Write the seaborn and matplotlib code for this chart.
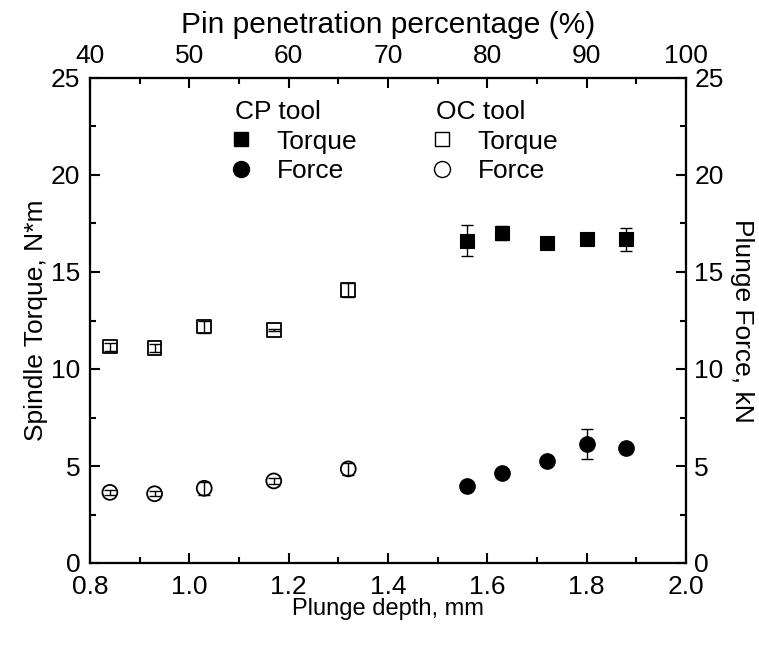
import matplotlib
matplotlib.use("Agg")
import matplotlib.pyplot as plt
import seaborn as sns
import pandas as pd
from matplotlib.ticker import MultipleLocator
from matplotlib.lines import Line2D

sns.set_theme(style="ticks")
plt.rcParams['font.family'] = ['Liberation Sans', 'DejaVu Sans']
for k in ['text.color', 'axes.labelcolor', 'xtick.color', 'ytick.color', 'axes.edgecolor']:
    plt.rcParams[k] = 'black'
FS = 19

# OC tool data
oc_depth = [0.84, 0.93, 1.03, 1.17, 1.32]
oc_torque = [11.15, 11.07, 12.18, 12.01, 14.07]
oc_torque_err = [0.2, 0.2, 0.3, 0.05, 0.35]
oc_force = [3.64, 3.57, 3.85, 4.23, 4.85]
oc_force_err = [0.12, 0.12, 0.33, 0.15, 0.32]

# CP tool data
cp_depth = [1.56, 1.63, 1.72, 1.80, 1.88]
cp_torque = [16.61, 17.0, 16.51, 16.68, 16.68]
cp_torque_err = [0.8, 0.35, 0.15, 0.12, 0.6]
cp_force = [3.99, 4.62, 5.26, 6.12, 5.94]
cp_force_err = [0.1, 0.1, 0.1, 0.77, 0.1]

pct_ticks = [40, 50, 60, 70, 80, 90, 100]
depth_ticks = [0.8, 1.0, 1.2, 1.4, 1.6, 1.8, 2.0]
y_ticks = [0, 5, 10, 15, 20, 25]

oc = pd.DataFrame({'depth': oc_depth, 'torque': oc_torque, 'force': oc_force})
cp = pd.DataFrame({'depth': cp_depth, 'torque': cp_torque, 'force': cp_force})

fig = plt.figure(figsize=(7.59, 6.47), dpi=100)
ax = fig.add_axes([90/759, 1-563/647, 596/759, 485/647])

# error bars
ekw = dict(fmt='none', ecolor='black', elinewidth=1.0, capsize=4.5, capthick=1.0, zorder=3)
ax.errorbar(cp_depth, cp_torque, yerr=cp_torque_err, **ekw)
ax.errorbar(cp_depth, cp_force, yerr=cp_force_err, **ekw)
ax.errorbar(oc_depth, oc_torque, yerr=oc_torque_err, **ekw)
ax.errorbar(oc_depth, oc_force, yerr=oc_force_err, **ekw)

sns.scatterplot(data=cp, x='depth', y='torque', marker='s', s=100, color='black',
                edgecolor='black', linewidth=0.8, ax=ax, zorder=2, legend=False)
sns.scatterplot(data=cp, x='depth', y='force', marker='o', s=125, color='black',
                edgecolor='black', linewidth=0.8, ax=ax, zorder=2, legend=False)
sns.scatterplot(data=oc, x='depth', y='torque', marker='s', s=95, facecolor='none',
                edgecolor='black', linewidth=1.3, ax=ax, zorder=4, legend=False)
sns.scatterplot(data=oc, x='depth', y='force', marker='o', s=115, facecolor='none',
                edgecolor='black', linewidth=1.3, ax=ax, zorder=4, legend=False)

ax.set_xlim(0.8, 2.0)
ax.set_ylim(0, 25)
ax.set_xticks(depth_ticks)
ax.set_xticklabels([f'{t:.1f}' for t in depth_ticks])
ax.xaxis.set_minor_locator(MultipleLocator(0.1))
ax.set_yticks(y_ticks)
ax.set_yticklabels([str(t) for t in y_ticks])
ax.yaxis.set_minor_locator(MultipleLocator(2.5))

for s in ax.spines.values():
    s.set_linewidth(1.5)
    s.set_color('black')
ax.tick_params(which='major', direction='in', length=7, width=1.5, labelsize=FS, pad=7)
ax.tick_params(axis='x', which='major', pad=9)
ax.tick_params(which='minor', direction='in', length=4, width=1.5)
ax.set_xlabel('Plunge depth, mm', fontsize=17, labelpad=-1)
ax.set_ylabel('Spindle Torque, N*m', fontsize=FS, labelpad=2)

# right axis
ax2 = ax.twinx()
ax2.set_ylim(0, 25)
ax2.set_yticks(y_ticks)
ax2.set_yticklabels([str(t) for t in y_ticks])
ax2.yaxis.set_minor_locator(MultipleLocator(2.5))
ax2.tick_params(which='major', direction='in', length=7, width=1.5, labelsize=FS, pad=6)
ax2.tick_params(which='minor', direction='in', length=4, width=1.5)
ax2.set_ylabel('Plunge Force, kN', fontsize=FS, rotation=270, labelpad=22)
for s in ax2.spines.values():
    s.set_linewidth(1.5)

# top axis
ax3 = ax.twiny()
ax3.set_xlim(40, 100)
ax3.set_xticks(pct_ticks)
ax3.set_xticklabels([str(t) for t in pct_ticks])
ax3.xaxis.set_minor_locator(MultipleLocator(5))
ax3.tick_params(which='major', direction='in', length=7, width=1.5, labelsize=FS, pad=7)
ax3.tick_params(which='minor', direction='in', length=4, width=1.5)
ax3.set_xlabel('Pin penetration percentage (%)', fontsize=21.5, labelpad=8)
for s in ax3.spines.values():
    s.set_linewidth(1.5)

# legends
cp_handles = [Line2D([], [], ls='none', marker='s', ms=10, mfc='black', mec='black'),
              Line2D([], [], ls='none', marker='o', ms=11.5, mfc='black', mec='black')]
oc_handles = [Line2D([], [], ls='none', marker='s', ms=9.5, mfc='white', mec='black', mew=1.0),
              Line2D([], [], ls='none', marker='o', ms=11.5, mfc='white', mec='black', mew=1.0)]
labels = ['Torque', 'Force']
lkw = dict(loc='upper left', frameon=False, fontsize=FS, title_fontsize=FS,
           alignment='left', handletextpad=1.09, labelspacing=0.22,
           borderpad=0.0, borderaxespad=0.0, handlelength=0.5)
leg1 = ax3.legend(cp_handles, labels, title='CP tool', bbox_to_anchor=(0.243, 0.955), **lkw)
ax3.add_artist(leg1)
leg2 = ax3.legend(oc_handles, labels, title='OC tool', bbox_to_anchor=(0.580, 0.955), **lkw)

fig.savefig('out.png', dpi=100)
